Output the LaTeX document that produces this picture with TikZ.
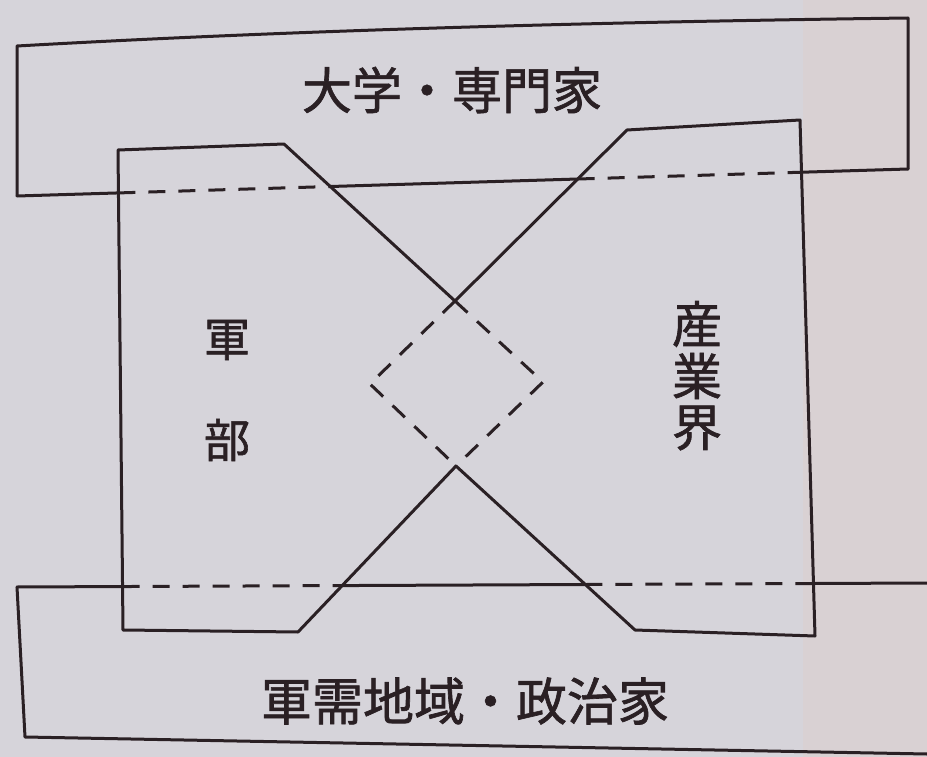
\documentclass[tikz,border=0pt]{standalone}
\usepackage{fontspec}
\newfontfamily\jpfont{Noto Sans CJK JP}[FakeBold=1.3]
\usetikzlibrary{intersections}
\definecolor{paper}{HTML}{D6D4DA}
\definecolor{paperR}{HTML}{D9D1D3}
\definecolor{ink}{HTML}{2A2024}
\begin{document}
\begin{tikzpicture}[x=1pt,y=-1pt,
  edge/.style={draw=ink,line width=3pt,line join=round,line cap=round},
  hid/.style={draw=ink,line width=3pt,dash pattern=on 17pt off 13pt},
  hidd/.style={draw=ink,line width=3pt,dash pattern=on 17pt off 13pt},
  lbl/.style={text=ink,inner sep=0pt}]
% paper
\fill[paper] (0,0) rectangle (927,757);
\fill[paperR] (803,0) rectangle (927,757);
\useasboundingbox (0,0) rectangle (927,757);
% coordinates
\coordinate (tTL) at (17,46);
\coordinate (tTR) at (908,18);
\coordinate (tBR) at (908,169);
\coordinate (tBL) at (17,196);
\coordinate (bTL) at (17,587);
\coordinate (bTR) at (927,583);
\coordinate (bBL) at (25,737);
\coordinate (bBR) at (927,754);
\coordinate (A1) at (118,150);
\coordinate (A2) at (284,144);
\coordinate (Xt) at (455,301);
\coordinate (At) at (543,382);
\coordinate (Xb) at (456,466);
\coordinate (A5) at (298,632);
\coordinate (A6) at (123,630);
\coordinate (B1) at (800,120);
\coordinate (B2) at (627,130);
\coordinate (Bt) at (370,384);
\coordinate (B5) at (635,630);
\coordinate (B6) at (815,636);
% helper paths
\path[name path=tbot] (tBL) -- (tBR);
\path[name path=btop] (bTL) -- (bTR);
\path[name path=Lsh] (A1) -- (A2) -- (Xt) -- (At) -- (Xb) -- (A5) -- (A6) -- cycle;
\path[name path=Rsh] (B1) -- (B2) -- (Xt) -- (Bt) -- (Xb) -- (B5) -- (B6) -- cycle;
\path[name intersections={of=tbot and Lsh, name=p, sort by=tbot}];
\path[name intersections={of=tbot and Rsh, name=q, sort by=tbot}];
\path[name intersections={of=btop and Lsh, name=r, sort by=btop}];
\path[name intersections={of=btop and Rsh, name=s, sort by=btop}];
% top box
\draw[edge] (tBL) -- (tTL) .. controls (300,30) and (600,22) .. (tTR) -- (tBR);
\draw[edge] (tBL) -- (p-1);
\draw[hid] (p-1) -- (p-2);
\draw[edge] (p-2) -- (q-1);
\draw[hid] (q-1) -- (q-2);
\draw[edge] (q-2) -- (tBR);
% bottom box
\draw[edge] (bTL) -- (bBL) -- (bBR);
\draw[edge] (bTL) -- (r-1);
\draw[hid] (r-1) -- (r-2);
\draw[edge] (r-2) -- (s-1);
\draw[hid] (s-1) -- (s-2);
\draw[edge] (s-2) -- (bTR);
% left shape
\draw[edge] (Xt) -- (A2) -- (A1) -- (A6) -- (A5) -- (Xb);
\draw[hidd] (Xt) -- (At) -- (Xb);
% right shape
\draw[edge] (Xt) -- (B2) -- (B1) -- (B6) -- (B5) -- (Xb);
\draw[hidd] (Xt) -- (Bt) -- (Xb);
% labels
\node[lbl,font=\jpfont\fontsize{50}{50}\selectfont] (uni) at (452,90) {大学・専門家};
\node[lbl,font=\jpfont\fontsize{51}{51}\selectfont] (reg) at (465,701) {軍需地域・政治家};
\node[lbl,font=\jpfont\fontsize{46}{46}\selectfont] (gun1) at (227,340) {軍};
\node[lbl,font=\jpfont\fontsize{46}{46}\selectfont] (gun2) at (227,440) {部};
\node[lbl,font=\jpfont\fontsize{50}{50}\selectfont] (ind1) at (697,324) {産};
\node[lbl,font=\jpfont\fontsize{50}{50}\selectfont] (ind2) at (697,376) {業};
\node[lbl,font=\jpfont\fontsize{50}{50}\selectfont] (ind3) at (697,428) {界};
\end{tikzpicture}
\end{document}
